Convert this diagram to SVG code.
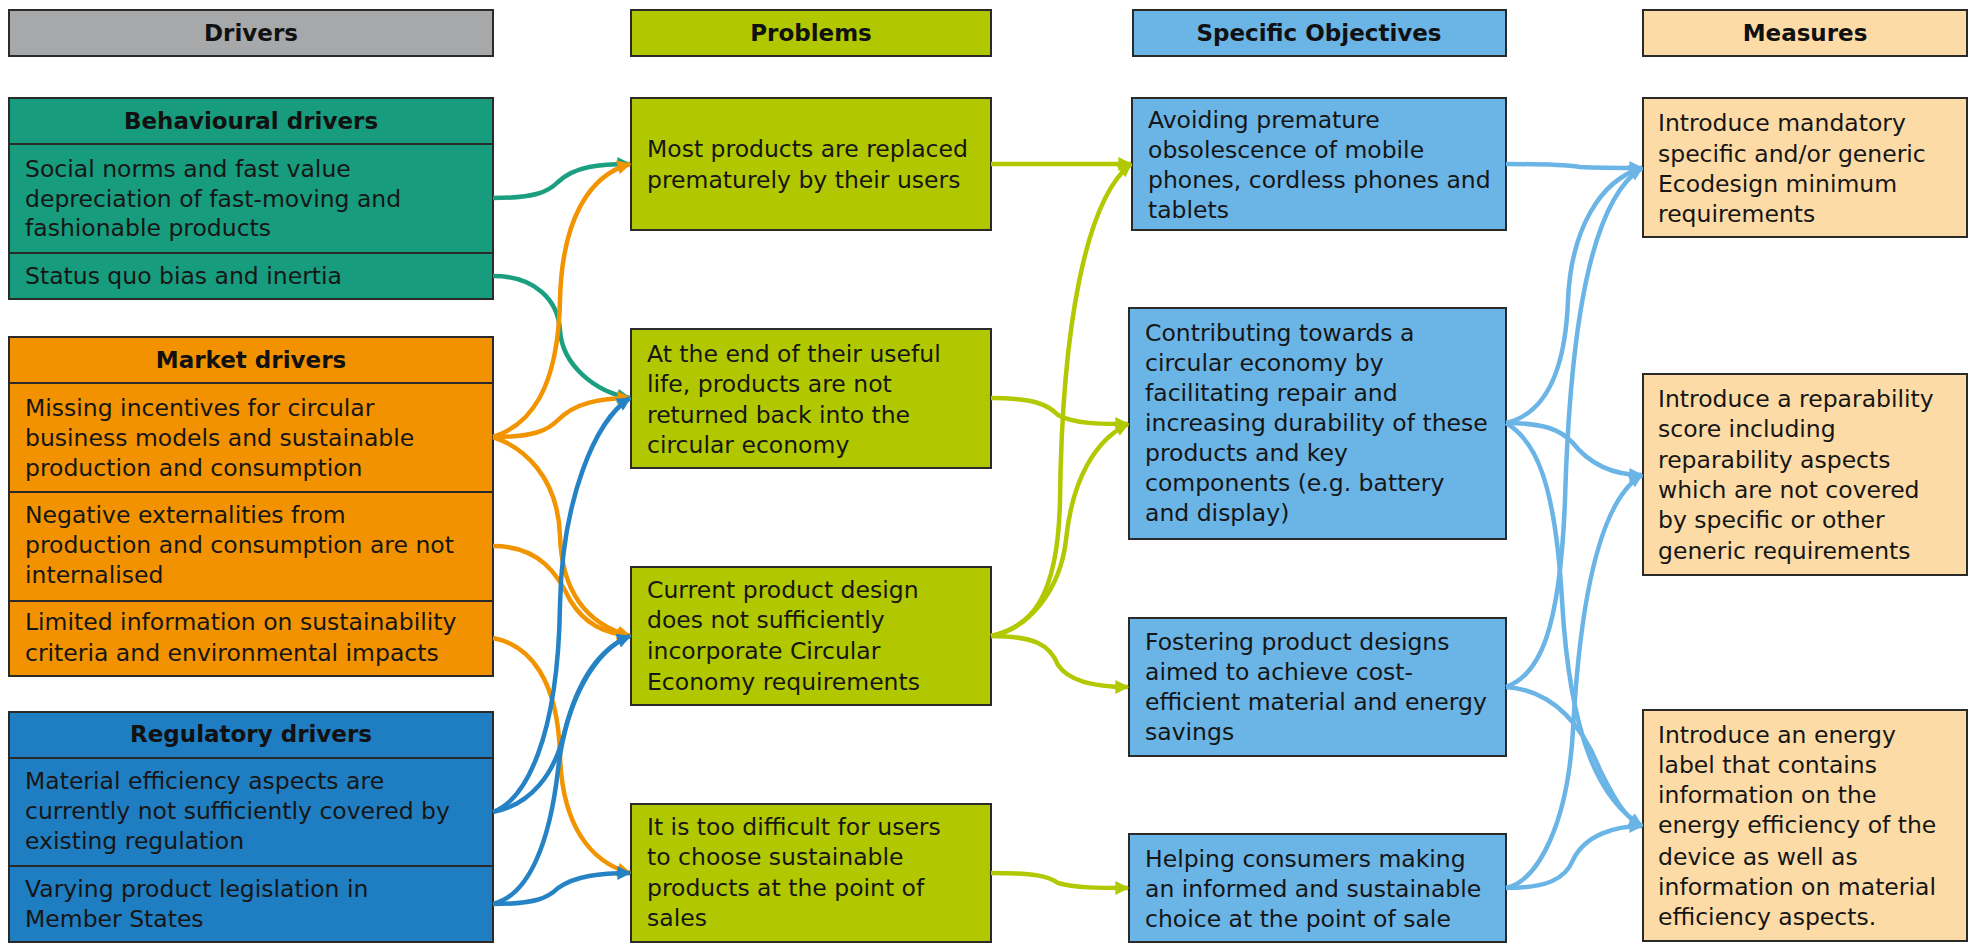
<svg xmlns="http://www.w3.org/2000/svg" width="1977" height="944" viewBox="0 0 1977 944">
<style>
.box{stroke:#2a2a2a;stroke-width:2}
.hdr{font-family:"DejaVu Sans","Open Sans",sans-serif;font-weight:bold;font-size:23px;fill:#111;text-anchor:middle}
.t{font-family:"DejaVu Sans","Open Sans",sans-serif;font-size:23.5px;fill:#161616}
.c{fill:none;stroke-width:4.5}
.teal{fill:#179c7d}.orange{fill:#f39200}.reg{fill:#1f7dc1}.gray{fill:#a6a8a9}.prob{fill:#b1c800}.obj{fill:#6ab4e6}.meas{fill:#fddba6}
</style>
<defs>
<marker id="aTeal" viewBox="0 0 10 10" refX="9" refY="5" markerWidth="16" markerHeight="14" orient="auto" markerUnits="userSpaceOnUse"><path d="M0,0 L10,5 L0,10 z" fill="#1a9f80"/></marker>
<marker id="aOrange" viewBox="0 0 10 10" refX="9" refY="5" markerWidth="16" markerHeight="14" orient="auto" markerUnits="userSpaceOnUse"><path d="M0,0 L10,5 L0,10 z" fill="#f29400"/></marker>
<marker id="aBlue" viewBox="0 0 10 10" refX="9" refY="5" markerWidth="16" markerHeight="14" orient="auto" markerUnits="userSpaceOnUse"><path d="M0,0 L10,5 L0,10 z" fill="#2582c5"/></marker>
<marker id="aGreen" viewBox="0 0 10 10" refX="9" refY="5" markerWidth="16" markerHeight="14" orient="auto" markerUnits="userSpaceOnUse"><path d="M0,0 L10,5 L0,10 z" fill="#b2c800"/></marker>
<marker id="aLight" viewBox="0 0 10 10" refX="9" refY="5" markerWidth="16" markerHeight="14" orient="auto" markerUnits="userSpaceOnUse"><path d="M0,0 L10,5 L0,10 z" fill="#6bb5e6"/></marker>
</defs>

<g id="header-drivers"><rect class="box gray" x="9" y="10" width="484" height="46"/><text class="hdr" x="251" y="41">Drivers</text></g>
<g id="header-problems"><rect class="box prob" x="631" y="10" width="360" height="46"/><text class="hdr" x="811" y="41">Problems</text></g>
<g id="header-objectives"><rect class="box obj" x="1133" y="10" width="373" height="46"/><text class="hdr" x="1319" y="41">Specific Objectives</text></g>
<g id="header-measures"><rect class="box meas" x="1643" y="10" width="324" height="46"/><text class="hdr" x="1805" y="41">Measures</text></g>

<g id="behavioural-drivers">
<rect class="box teal" x="9" y="98" width="484" height="201"/>
<line class="box" x1="9" y1="144" x2="493" y2="144"/>
<line class="box" x1="9" y1="253" x2="493" y2="253"/>
<text class="hdr" x="251" y="129">Behavioural drivers</text>
<text class="t" x="25" y="177">Social norms and fast value</text>
<text class="t" x="25" y="207">depreciation of fast-moving and</text>
<text class="t" x="25" y="236">fashionable products</text>
<text class="t" x="25" y="284">Status quo bias and inertia</text>
</g>

<g id="market-drivers">
<rect class="box orange" x="9" y="337" width="484" height="339"/>
<line class="box" x1="9" y1="383" x2="493" y2="383"/>
<line class="box" x1="9" y1="492" x2="493" y2="492"/>
<line class="box" x1="9" y1="601" x2="493" y2="601"/>
<text class="hdr" x="251" y="368">Market drivers</text>
<text class="t" x="25" y="416">Missing incentives for circular</text>
<text class="t" x="25" y="446">business models and sustainable</text>
<text class="t" x="25" y="476">production and consumption</text>
<text class="t" x="25" y="523">Negative externalities from</text>
<text class="t" x="25" y="553">production and consumption are not</text>
<text class="t" x="25" y="583">internalised</text>
<text class="t" x="25" y="630">Limited information on sustainability</text>
<text class="t" x="25" y="661">criteria and environmental impacts</text>
</g>

<g id="regulatory-drivers">
<rect class="box reg" x="9" y="712" width="484" height="230"/>
<line class="box" x1="9" y1="758" x2="493" y2="758"/>
<line class="box" x1="9" y1="866" x2="493" y2="866"/>
<text class="hdr" x="251" y="742">Regulatory drivers</text>
<text class="t" x="25" y="789">Material efficiency aspects are</text>
<text class="t" x="25" y="819">currently not sufficiently covered by</text>
<text class="t" x="25" y="849">existing regulation</text>
<text class="t" x="25" y="897">Varying product legislation in</text>
<text class="t" x="25" y="927">Member States</text>
</g>

<g id="problem-1"><rect class="box prob" x="631" y="98" width="360" height="132"/>
<text class="t" x="647" y="157">Most products are replaced</text>
<text class="t" x="647" y="188">prematurely by their users</text></g>
<g id="problem-2"><rect class="box prob" x="631" y="329" width="360" height="139"/>
<text class="t" x="647" y="362">At the end of their useful</text>
<text class="t" x="647" y="392">life, products are not</text>
<text class="t" x="647" y="423">returned back into the</text>
<text class="t" x="647" y="453">circular economy</text></g>
<g id="problem-3"><rect class="box prob" x="631" y="567" width="360" height="138"/>
<text class="t" x="647" y="598">Current product design</text>
<text class="t" x="647" y="628">does not sufficiently</text>
<text class="t" x="647" y="659">incorporate Circular</text>
<text class="t" x="647" y="690">Economy requirements</text></g>
<g id="problem-4"><rect class="box prob" x="631" y="804" width="360" height="138"/>
<text class="t" x="647" y="835">It is too difficult for users</text>
<text class="t" x="647" y="865">to choose sustainable</text>
<text class="t" x="647" y="896">products at the point of</text>
<text class="t" x="647" y="926">sales</text></g>

<g id="objective-1"><rect class="box obj" x="1132" y="98" width="374" height="132"/>
<text class="t" x="1148" y="128">Avoiding premature</text>
<text class="t" x="1148" y="158">obsolescence of mobile</text>
<text class="t" x="1148" y="188">phones, cordless phones and</text>
<text class="t" x="1148" y="218">tablets</text></g>
<g id="objective-2"><rect class="box obj" x="1129" y="308" width="377" height="231"/>
<text class="t" x="1145" y="341">Contributing towards a</text>
<text class="t" x="1145" y="371">circular economy by</text>
<text class="t" x="1145" y="401">facilitating repair and</text>
<text class="t" x="1145" y="431">increasing durability of these</text>
<text class="t" x="1145" y="461">products and key</text>
<text class="t" x="1145" y="491">components (e.g. battery</text>
<text class="t" x="1145" y="521">and display)</text></g>
<g id="objective-3"><rect class="box obj" x="1129" y="618" width="377" height="138"/>
<text class="t" x="1145" y="650">Fostering product designs</text>
<text class="t" x="1145" y="680">aimed to achieve cost-</text>
<text class="t" x="1145" y="710">efficient material and energy</text>
<text class="t" x="1145" y="740">savings</text></g>
<g id="objective-4"><rect class="box obj" x="1129" y="834" width="377" height="108"/>
<text class="t" x="1145" y="867">Helping consumers making</text>
<text class="t" x="1145" y="897">an informed and sustainable</text>
<text class="t" x="1145" y="927">choice at the point of sale</text></g>

<g id="measure-1"><rect class="box meas" x="1643" y="98" width="324" height="139"/>
<text class="t" x="1658" y="131">Introduce mandatory</text>
<text class="t" x="1658" y="162">specific and/or generic</text>
<text class="t" x="1658" y="192">Ecodesign minimum</text>
<text class="t" x="1658" y="222">requirements</text></g>
<g id="measure-2"><rect class="box meas" x="1643" y="374" width="324" height="201"/>
<text class="t" x="1658" y="407">Introduce a reparability</text>
<text class="t" x="1658" y="437">score including</text>
<text class="t" x="1658" y="468">reparability aspects</text>
<text class="t" x="1658" y="498">which are not covered</text>
<text class="t" x="1658" y="528">by specific or other</text>
<text class="t" x="1658" y="559">generic requirements</text></g>
<g id="measure-3"><rect class="box meas" x="1643" y="710" width="324" height="231"/>
<text class="t" x="1658" y="743">Introduce an energy</text>
<text class="t" x="1658" y="773">label that contains</text>
<text class="t" x="1658" y="803">information on the</text>
<text class="t" x="1658" y="833">energy efficiency of the</text>
<text class="t" x="1658" y="865">device as well as</text>
<text class="t" x="1658" y="895">information on material</text>
<text class="t" x="1658" y="925">efficiency aspects.</text></g>

<g id="connectors">
<g stroke="#1a9f80" marker-end="url(#aTeal)">
<path class="c" d="M493 198 C535 198 548 192 558 182 C575 166 600 164 630 164"/>
<path class="c" d="M493 276 C535 276 558 300 560 330 C562 365 595 392 630 398"/>
</g>
<g stroke="#f29400" marker-end="url(#aOrange)">
<path class="c" d="M493 437 C530 425 558 390 560 300 C562 218 590 175 630 164"/>
<path class="c" d="M493 437 C535 437 548 430 558 420 C575 403 600 398 630 398"/>
<path class="c" d="M493 437 C523 447 558 476 560 536 C562 596 590 625 630 636"/>
<path class="c" d="M493 546 C540 546 558 575 570 600 C585 625 605 633 630 636"/>
<path class="c" d="M493 638 C530 645 558 680 560 755 C562 825 590 862 630 873"/>
</g>
<g stroke="#2582c5" marker-end="url(#aBlue)">
<path class="c" d="M493 812 C525 800 558 740 560 605 C562 500 595 420 630 398"/>
<path class="c" d="M493 812 C530 805 555 775 565 730 C578 680 600 648 630 636"/>
<path class="c" d="M493 904 C530 895 550 840 558 770 C566 700 595 650 630 636"/>
<path class="c" d="M493 904 C535 904 548 898 558 888 C575 876 600 873 630 873"/>
</g>
<g stroke="#b2c800" marker-end="url(#aGreen)">
<path class="c" d="M991 164 L1131 164"/>
<path class="c" d="M991 398 C1035 398 1048 405 1058 415 C1075 424 1100 424 1128 424"/>
<path class="c" d="M991 636 C1030 628 1058 600 1060 500 C1062 330 1085 200 1131 164"/>
<path class="c" d="M991 636 C1030 628 1060 590 1066 540 C1072 480 1095 440 1128 424"/>
<path class="c" d="M991 636 C1035 636 1050 645 1058 665 C1070 683 1100 687 1128 687"/>
<path class="c" d="M991 873 C1035 873 1048 876 1058 883 C1075 888 1100 888 1128 888"/>
</g>
<g stroke="#6bb5e6" marker-end="url(#aLight)">
<path class="c" d="M1506 164 C1550 164 1565 165 1580 167 C1600 168 1620 168 1642 168"/>
<path class="c" d="M1506 423 C1540 415 1565 380 1568 300 C1571 230 1600 180 1642 168"/>
<path class="c" d="M1506 423 C1545 423 1560 430 1572 442 C1590 465 1615 475 1642 475"/>
<path class="c" d="M1506 423 C1535 440 1555 480 1562 600 C1570 740 1600 800 1642 826"/>
<path class="c" d="M1506 687 C1540 675 1560 630 1565 500 C1570 330 1590 200 1642 168"/>
<path class="c" d="M1506 687 C1550 690 1580 720 1600 770 C1615 800 1625 818 1642 826"/>
<path class="c" d="M1506 888 C1540 880 1568 820 1573 730 C1580 600 1600 500 1642 475"/>
<path class="c" d="M1506 888 C1545 888 1565 880 1573 860 C1585 835 1615 826 1642 826"/>
</g>
</g>
</svg>
